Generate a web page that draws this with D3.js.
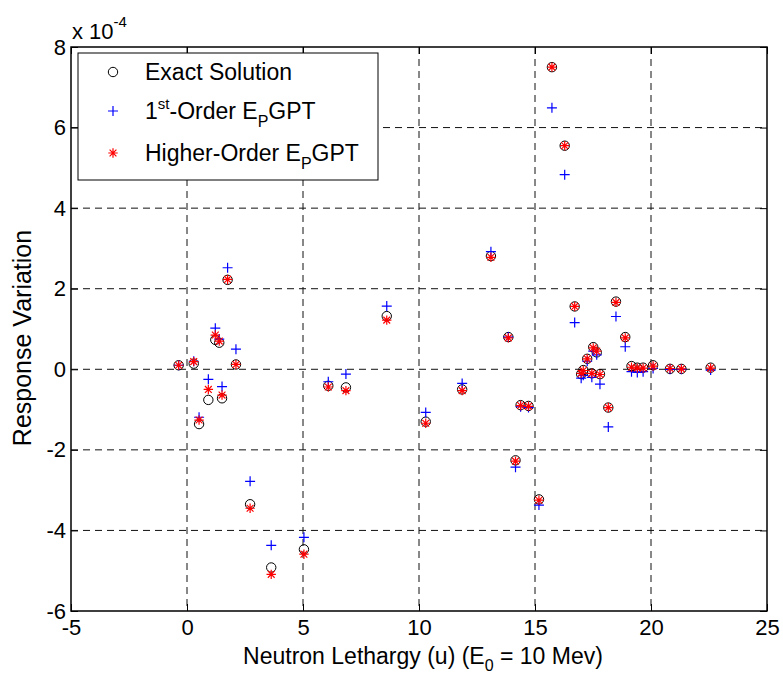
<!DOCTYPE html>
<html>
<head>
<meta charset="utf-8">
<script src="https://cdn.jsdelivr.net/npm/d3@7"></script>
<style>
  body { margin: 0; background: #fff; }
  svg text { font-family: "Liberation Sans", Arial, Helvetica, sans-serif; fill: #000; }
</style>
</head>
<body>
<svg id="chart" width="783" height="675"></svg>
<script>
// lethargy values (u) shared by the three series
var lethargy = [-0.36, 0.29, 0.52, 0.92, 1.22, 1.39, 1.51, 1.75, 2.11, 2.72, 3.63, 5.04,
  6.09, 6.85, 8.61, 10.29, 11.86, 13.1, 13.85, 14.16, 14.38, 14.72, 15.17, 15.73, 16.28,
  16.71, 17.08, 16.99, 17.25, 17.45, 17.51, 17.66, 17.8, 18.16, 18.49, 18.89, 19.16,
  19.41, 19.66, 20.09, 20.82, 21.31, 22.57];
// response variation, in units of 1e-4
var exactSolution = [0.10, 0.14, -1.36, -0.76, 0.73, 0.66, -0.72, 2.22, 0.12, -3.35, -4.92, -4.47,
  -0.41, -0.45, 1.32, -1.30, -0.50, 2.81, 0.80, -2.26, -0.89, -0.91, -3.23, 7.50, 5.55,
  1.56, -0.02, -0.12, 0.26, -0.10, 0.55, 0.42, -0.12, -0.95, 1.68, 0.80, 0.08,
  0.04, 0.04, 0.10, 0.01, 0.01, 0.04];
var firstOrder = [0.10, 0.20, -1.19, -0.25, 1.02, 0.75, -0.43, 2.52, 0.50, -2.78, -4.37, -4.17,
  -0.31, -0.12, 1.57, -1.07, -0.35, 2.92, 0.80, -2.43, -0.93, -0.95, -3.37, 6.49, 4.83,
  1.16, -0.15, -0.22, 0.20, -0.20, 0.45, 0.36, -0.37, -1.43, 1.31, 0.56, -0.06,
  -0.08, -0.06, 0.02, 0.00, 0.00, -0.02];
var higherOrder = [0.10, 0.19, -1.26, -0.50, 0.85, 0.70, -0.64, 2.23, 0.12, -3.45, -5.09, -4.59,
  -0.44, -0.53, 1.22, -1.34, -0.53, 2.78, 0.78, -2.28, -0.90, -0.92, -3.25, 7.50, 5.55,
  1.56, -0.03, -0.10, 0.26, -0.10, 0.53, 0.45, -0.13, -0.95, 1.66, 0.78, 0.05,
  0.03, 0.03, 0.08, 0.02, 0.01, 0.03];
var xTicks = [-5, 0, 5, 10, 15, 20, 25];
var yTicks = [-6, -4, -2, 0, 2, 4, 6, 8];

var svg = d3.select("#chart");
var margin = {top: 47, right: 16, bottom: 64, left: 71};
var width = 783 - margin.left - margin.right;
var height = 675 - margin.top - margin.bottom;

var x = d3.scaleLinear().domain([-5, 25]).range([0, width]);
var y = d3.scaleLinear().domain([-6, 8]).range([height, 0]);
var plainNum = d => String(d);  // hyphen minus like the original

var g = svg.append("g")
  .attr("transform", "translate(" + margin.left + "," + margin.top + ")");

// dashed grid
g.append("g").selectAll("line").data(xTicks.slice(1, -1))
  .enter().append("line")
  .attr("x1", d => x(d)).attr("x2", d => x(d))
  .attr("y1", 0).attr("y2", height)
  .attr("stroke", "#111").attr("stroke-dasharray", "7,5");
g.append("g").selectAll("line").data(yTicks.slice(1, -1))
  .enter().append("line")
  .attr("y1", d => y(d)).attr("y2", d => y(d))
  .attr("x1", 0).attr("x2", width)
  .attr("stroke", "#111").attr("stroke-dasharray", "7,5");

// axes, ticks pointing inward
function styleAxis(sel) {
  sel.select(".domain").remove();
  sel.selectAll(".tick line").attr("stroke", "#000").attr("stroke-width", 1);
  sel.selectAll("text").style("font-size", "22px");
}
g.append("g").attr("transform", "translate(0," + height + ")")
  .call(d3.axisBottom(x).tickValues(xTicks).tickSize(-7).tickPadding(8).tickFormat(plainNum))
  .call(styleAxis);
g.append("g")
  .call(d3.axisTop(x).tickValues(xTicks).tickSize(-7).tickFormat(""))
  .call(styleAxis);
g.append("g")
  .call(d3.axisLeft(y).tickValues(yTicks).tickSize(-7).tickPadding(5).tickFormat(plainNum))
  .call(styleAxis);
g.append("g").attr("transform", "translate(" + width + ",0)")
  .call(d3.axisRight(y).tickValues(yTicks).tickSize(-7).tickFormat(""))
  .call(styleAxis);

g.append("rect")
  .attr("width", width).attr("height", height)
  .attr("fill", "none").attr("stroke", "#000").attr("stroke-width", 1.5);

// markers
var points = lethargy.map((u, i) => ({u: u, exact: exactSolution[i], first: firstOrder[i], higher: higherOrder[i]}));

function drawCircle(sel) {
  sel.append("circle").attr("r", 4.7).attr("fill", "none").attr("stroke", "#000").attr("stroke-width", 1);
}
function drawPlus(sel) {
  sel.append("path").attr("d", "M-5,0H5M0,-5V5").attr("stroke", "#0000ff").attr("stroke-width", 1.2);
}
function drawStar(sel) {
  sel.append("path").attr("d", "M-4.7,0H4.7M0,-4.7V4.7M-3.4,-3.4L3.4,3.4M-3.4,3.4L3.4,-3.4")
    .attr("stroke", "#ff0000").attr("stroke-width", 1.2);
}

g.append("g").selectAll("g").data(points).enter().append("g")
  .attr("transform", d => "translate(" + x(d.u) + "," + y(d.exact) + ")")
  .call(drawCircle);
g.append("g").selectAll("g").data(points).enter().append("g")
  .attr("transform", d => "translate(" + x(d.u) + "," + y(d.first) + ")")
  .call(drawPlus);
g.append("g").selectAll("g").data(points).enter().append("g")
  .attr("transform", d => "translate(" + x(d.u) + "," + y(d.higher) + ")")
  .call(drawStar);

// exponent label
var expo = svg.append("text").attr("x", 72).attr("y", 39).style("font-size", "22px");
expo.append("tspan").text("x 10");
expo.append("tspan").attr("dy", -12).style("font-size", "15px").text("-4");

// axis titles
var xl = svg.append("text").attr("x", 423).attr("y", 664)
  .attr("text-anchor", "middle").style("font-size", "23px");
xl.append("tspan").text("Neutron Lethargy (u) (E");
xl.append("tspan").attr("dy", 7).style("font-size", "16px").text("0");
xl.append("tspan").attr("dy", -7).text(" = 10 Mev)");

svg.append("text")
  .attr("transform", "translate(31,338) rotate(-90)")
  .attr("text-anchor", "middle").style("font-size", "25px")
  .text("Response Variation");

// legend
var lg = svg.append("g").attr("transform", "translate(78,53)");
lg.append("rect").attr("width", 300).attr("height", 127)
  .attr("fill", "#fff").attr("stroke", "#000").attr("stroke-width", 1);
var rows = [
  {y: 19, draw: drawCircle, label: [["Exact Solution", 0, null]]},
  {y: 58, draw: drawPlus, label: [["1", 0, null], ["st", -10, 15], ["-Order E", 10, null], ["P", 8, 16], ["GPT", -8, null]]},
  {y: 100, draw: drawStar, label: [["Higher-Order E", 0, null], ["P", 8, 16], ["GPT", -8, null]]}
];
rows.forEach(function(r) {
  lg.append("g").attr("transform", "translate(35," + r.y + ")").call(r.draw);
  var t = lg.append("text").attr("x", 67).attr("y", r.y + 8).style("font-size", "23px");
  r.label.forEach(function(p) {
    var s = t.append("tspan").attr("dy", p[1]).text(p[0]);
    if (p[2]) s.style("font-size", p[2] + "px");
  });
});
</script>
</body>
</html>
